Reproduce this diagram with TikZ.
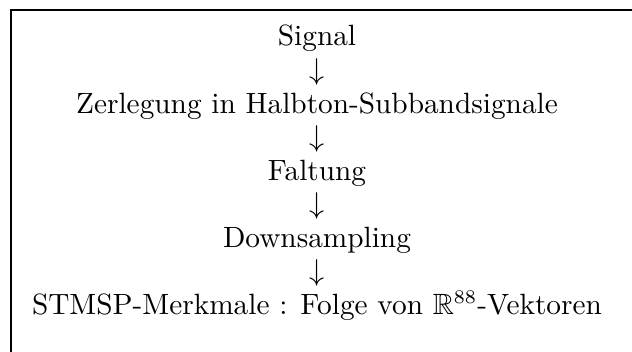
\documentclass[tikz,border=0pt]{standalone}
\usepackage{amssymb}
\begin{document}
\begin{tikzpicture}[x=0.3636pt,y=-0.3636pt,
  stage/.style={anchor=base,inner sep=0pt,font=\fontsize{10.66pt}{12.8pt}\selectfont},
  flow/.style={anchor=base,inner sep=0pt,font=\fontsize{10.66pt}{12.8pt}\selectfont}]
\useasboundingbox (0,0) rectangle (632,352);
% frame (only the top and left edges lie inside the page)
\draw[line width=0.8pt] (11,352) -- (11,10) -- (632,10);
% stages and the arrows between them
\node[stage] (s1) at (317,46)  {Signal};
\node[flow]  (a1) at (317,79.5)    {$\downarrow$};
\node[stage] (s2) at (317,113) {Zerlegung in Halbton-Subbandsignale};
\node[flow]  (a2) at (317,146.5)   {$\downarrow$};
\node[stage] (s3) at (317,180) {Faltung};
\node[flow]  (a3) at (317,213.5)   {$\downarrow$};
\node[stage] (s4) at (317,247) {Downsampling};
\node[flow]  (a4) at (317,280.5)   {$\downarrow$};
\node[stage] (s5) at (317,314) {STMSP-Merkmale : Folge von $\mathbb{R}^{88}$-Vektoren};
\end{tikzpicture}
\end{document}
